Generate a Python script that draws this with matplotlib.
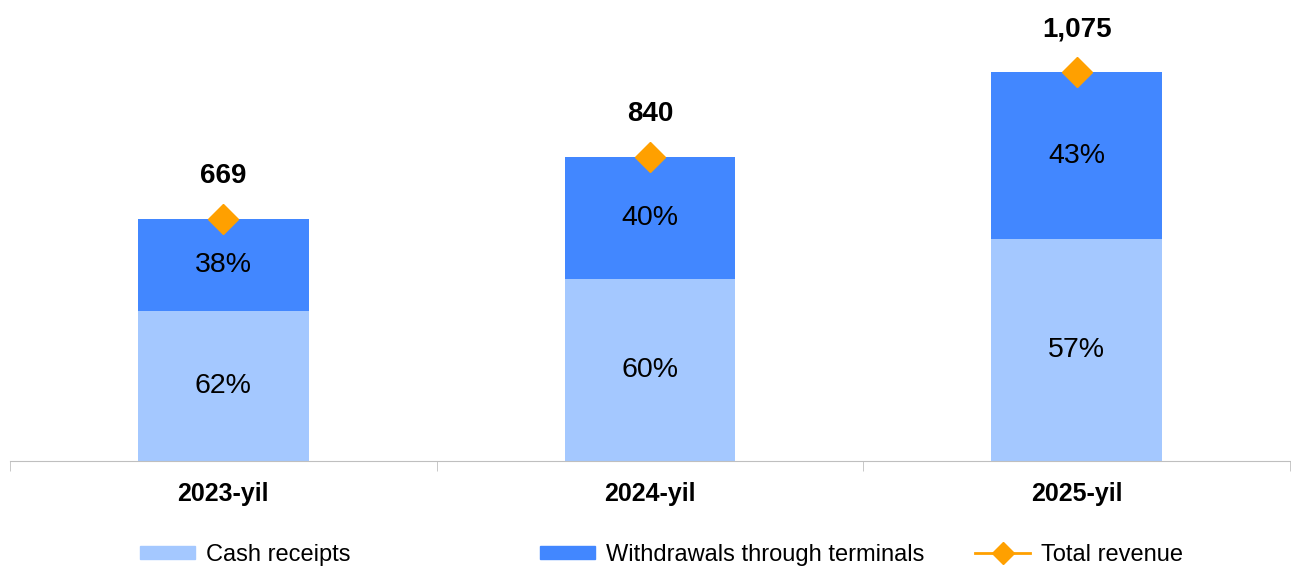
import matplotlib.pyplot as plt
import numpy as np
from matplotlib.lines import Line2D
from matplotlib.patches import Patch

plt.rcParams['font.family'] = ['Liberation Sans', 'DejaVu Sans']

years = ['2023-yil', '2024-yil', '2025-yil']
total = [669, 840, 1075]
cash_pct = [62, 60, 57]
terminal_pct = [38, 40, 43]
total_labels = ['669', '840', '1,075']

c_cash = '#A4C8FF'
c_term = '#4287FF'
c_total = '#FFA000'

cash = np.array(total) * np.array(cash_pct) / 100
term = np.array(total) * np.array(terminal_pct) / 100
x = np.arange(len(years))

fig = plt.figure(figsize=(12.91, 5.67), dpi=100)
ax = fig.add_axes([10 / 1291, 106 / 567, 1280 / 1291, 461 / 567])

ax.bar(x, cash, width=0.4, color=c_cash)
ax.bar(x, term, width=0.4, bottom=cash, color=c_term)
ax.plot(x, total, linestyle='none', marker='D', markersize=15.5, color=c_total)

for i in range(len(x)):
    ax.text(x[i], cash[i] / 2, f'{cash_pct[i]}%', ha='center', va='center', fontsize=20.5)
    ax.text(x[i], cash[i] + term[i] / 2, f'{terminal_pct[i]}%', ha='center', va='center', fontsize=20.5)
    ax.annotate(total_labels[i], (x[i], total[i]), xytext=(0, 31), textcoords='offset points',
                ha='center', va='center', fontsize=20, fontweight='bold')

ax.set_xlim(-0.5, 2.5)
ax.set_ylim(0, 1275)
ax.set_yticks([])
for s in ['top', 'right', 'left']:
    ax.spines[s].set_visible(False)
ax.spines['bottom'].set_color('#BFBFBF')

ax.set_xticks(x)
ax.set_xticklabels(years, fontsize=18, fontweight='bold')
ax.tick_params(axis='x', which='major', length=0, pad=15)
ax.set_xticks([-0.5, 0.5, 1.5, 2.5], minor=True)
ax.tick_params(axis='x', which='minor', length=7, color='#BFBFBF')

handles = [Patch(color=c_cash), Patch(color=c_term),
           Line2D([0], [0], color=c_total, marker='D', markersize=11, linewidth=2)]
labels = ['Cash receipts', 'Withdrawals through terminals', 'Total revenue']
starts = [140, 540, 975]
for h, lab, sx in zip(handles, labels, starts):
    fig.legend([h], [lab], loc='center left', bbox_to_anchor=(sx / 1291, 1 - 555 / 567),
               frameon=False, fontsize=17, borderpad=0, borderaxespad=0,
               handlelength=2.35, handleheight=0.5, handletextpad=0.45)

fig.savefig('out.png', dpi=100)
